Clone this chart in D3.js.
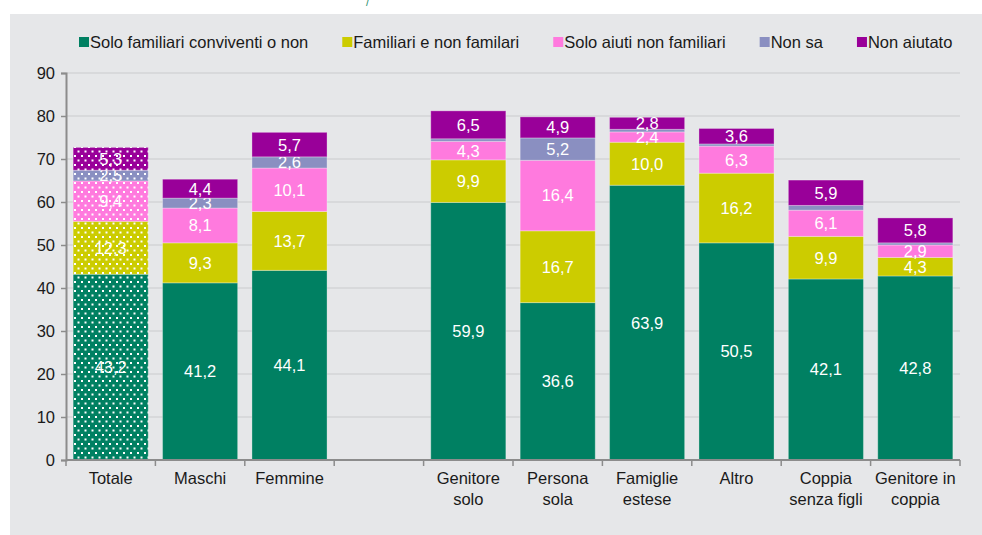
<!DOCTYPE html>
<html>
<head>
<meta charset="utf-8">
<script src="https://cdn.jsdelivr.net/npm/d3@7"></script>
<style>
  body { margin: 0; background: #fff; }
  svg text { font-family: "Liberation Sans", Arial, sans-serif; }
</style>
</head>
<body>
<div id="chart"></div>
<script>

// Categories (empty slot separates the two groups)
var categories = ["Totale", "Maschi", "Femmine", "", "Genitore solo", "Persona sola",
    "Famiglie estese", "Altro", "Coppia senza figli", "Genitore in coppia"];
var categoryLines = [["Totale"], ["Maschi"], ["Femmine"], [""], ["Genitore", "solo"],
    ["Persona", "sola"], ["Famiglie", "estese"], ["Altro"], ["Coppia", "senza figli"],
    ["Genitore in", "coppia"]];

// Series values (%)
var soloFamiliari = [43.2, 41.2, 44.1, 0, 59.9, 36.6, 63.9, 50.5, 42.1, 42.8];
var familiariNon  = [12.3,  9.3, 13.7, 0,  9.9, 16.7, 10.0, 16.2,  9.9,  4.3];
var soloAiuti     = [ 9.4,  8.1, 10.1, 0,  4.3, 16.4,  2.4,  6.3,  6.1,  2.9];
var nonSa         = [ 2.5,  2.3,  2.6, 0,  0.6,  5.2,  0.6,  0.5,  1.1,  0.5];
var nonAiutato    = [ 5.3,  4.4,  5.7, 0,  6.5,  4.9,  2.8,  3.6,  5.9,  5.8];

var seriesNames = ["Solo familiari conviventi o non", "Familiari e non familari",
    "Solo aiuti non familiari", "Non sa", "Non aiutato"];
var seriesColors = ["#008062", "#cccc00", "#ff7ade", "#8a8fc1", "#990099"];

var yTicks = [0, 10, 20, 30, 40, 50, 60, 70, 80, 90];

var W = 982, H = 535;
var margin = { top: 73, right: 22, bottom: 75, left: 66 };
var width = W - margin.left - margin.right;
var height = H - margin.top - margin.bottom;

var svg = d3.select("#chart").append("svg")
    .attr("width", W)
    .attr("height", H);

// gray panel
svg.append("rect")
    .attr("x", 10).attr("y", 14)
    .attr("width", W - 10).attr("height", H - 14)
    .attr("fill", "#e6e7e9");

// cut-off title fragment at the top
svg.append("text")
    .attr("x", 366).attr("y", 6)
    .attr("font-size", 11)
    .attr("fill", "#2a8f70")
    .text("/");

// dotted patterns for the "Totale" bar
var defs = svg.append("defs");
seriesColors.forEach(function(c, i) {
    var p = defs.append("pattern")
        .attr("id", "dots" + i)
        .attr("patternUnits", "userSpaceOnUse")
        .attr("width", 7).attr("height", 9);
    p.append("rect").attr("width", 7).attr("height", 9).attr("fill", c);
    p.append("rect").attr("x", 1).attr("y", 1).attr("width", 2).attr("height", 2).attr("fill", "#fff");
    p.append("rect").attr("x", 4.5).attr("y", 5.5).attr("width", 2).attr("height", 2).attr("fill", "#fff");
});

var g = svg.append("g")
    .attr("transform", "translate(" + margin.left + "," + margin.top + ")");

// Scales
var x = d3.scaleBand()
    .domain(categories.map(function(d, i) { return i; }))
    .range([0, width])
    .paddingInner(0.16)
    .paddingOuter(0.08);

var y = d3.scaleLinear()
    .domain([0, 90])
    .range([height, 0]);

// Gridlines
g.selectAll(".grid")
    .data(yTicks.slice(1))
    .enter().append("line")
    .attr("class", "grid")
    .attr("x1", 0).attr("x2", width)
    .attr("y1", function(d) { return y(d); })
    .attr("y2", function(d) { return y(d); })
    .attr("stroke", "#d3d4d6")
    .attr("stroke-width", 1.5);

// Stack data
var rows = categories.map(function(c, i) {
    return { idx: i, s0: soloFamiliari[i], s1: familiariNon[i], s2: soloAiuti[i], s3: nonSa[i], s4: nonAiutato[i] };
});
var stacked = d3.stack().keys(["s0", "s1", "s2", "s3", "s4"])(rows);

var layers = g.selectAll(".layer")
    .data(stacked)
    .enter().append("g")
    .attr("class", "layer");

layers.selectAll("rect")
    .data(function(d, k) { return d.map(function(v) { return { v: v, k: k }; }); })
    .enter().append("rect")
    .filter(function(d) { return d.v[1] - d.v[0] > 0; })
    .attr("x", function(d) { return x(d.v.data.idx); })
    .attr("width", x.bandwidth())
    .attr("y", function(d) { return y(d.v[1]); })
    .attr("height", function(d) { return y(d.v[0]) - y(d.v[1]); })
    .attr("fill", function(d) {
        return d.v.data.idx === 0 ? "url(#dots" + d.k + ")" : seriesColors[d.k];
    })
    .attr("stroke", "rgba(255,255,255,0.3)")
    .attr("stroke-width", 1);

// Segment labels
layers.selectAll("text")
    .data(function(d, k) { return d.map(function(v) { return { v: v, k: k }; }); })
    .enter().append("text")
    .filter(function(d) { return d.v[1] - d.v[0] >= 2; })
    .attr("x", function(d) { return x(d.v.data.idx) + x.bandwidth() / 2; })
    .attr("y", function(d) { return (y(d.v[0]) + y(d.v[1])) / 2; })
    .attr("dy", "0.36em")
    .attr("text-anchor", "middle")
    .attr("font-size", 16.5)
    .attr("fill", "#fff")
    .text(function(d) { return d3.format(".1f")(d.v[1] - d.v[0]).replace(".", ","); });

// Y axis
var yAxis = d3.axisLeft(y).tickValues(yTicks).tickSize(5).tickPadding(6).tickFormat(d3.format("d"));
var yG = g.append("g").call(yAxis);
yG.select(".domain").attr("stroke", "#8c8c8c").attr("stroke-width", 2);
yG.selectAll(".tick line").attr("stroke", "#8c8c8c").attr("stroke-width", 1.5);
yG.selectAll(".tick text").attr("font-size", 16.5).attr("fill", "#1a1a1a")
    .style("font-family", "'Liberation Sans', Arial, sans-serif");

// X axis line and ticks at band edges
g.append("line")
    .attr("x1", 0).attr("x2", width)
    .attr("y1", height).attr("y2", height)
    .attr("stroke", "#8c8c8c").attr("stroke-width", 2);

g.selectAll(".xtick")
    .data(d3.range(categories.length + 1))
    .enter().append("line")
    .attr("class", "xtick")
    .attr("x1", function(i) { return i * x.step(); })
    .attr("x2", function(i) { return i * x.step(); })
    .attr("y1", height).attr("y2", height + 6)
    .attr("stroke", "#8c8c8c").attr("stroke-width", 1.5);

// X labels
var xl = g.selectAll(".xlabel")
    .data(categoryLines)
    .enter().append("text")
    .attr("class", "xlabel")
    .attr("text-anchor", "middle")
    .attr("font-size", 16.5)
    .attr("fill", "#1a1a1a")
    .attr("transform", function(d, i) {
        return "translate(" + (x(i) + x.bandwidth() / 2) + "," + (height + 24) + ")";
    });
xl.selectAll("tspan")
    .data(function(d) { return d; })
    .enter().append("tspan")
    .attr("x", 0)
    .attr("y", function(d, j) { return j * 21; })
    .text(function(d) { return d; });

// Legend
var legend = svg.append("g").attr("transform", "translate(79,0)");
var lx = 0;
seriesNames.forEach(function(name, i) {
    var item = legend.append("g").attr("transform", "translate(" + lx + ",0)");
    item.append("rect")
        .attr("x", 0).attr("y", 37)
        .attr("width", 10).attr("height", 10)
        .attr("fill", seriesColors[i]);
    var t = item.append("text")
        .attr("x", 11).attr("y", 48)
        .attr("font-size", 16.5)
        .attr("fill", "#1a1a1a")
        .text(name);
    lx += 11 + t.node().getComputedTextLength() + 34;
});

</script>
</body>
</html>
